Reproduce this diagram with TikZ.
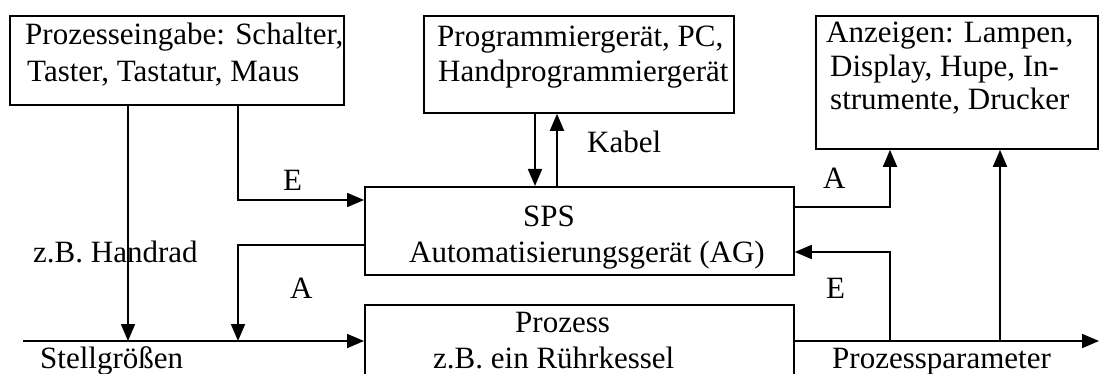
\documentclass[tikz,border=0pt]{standalone}
\usepackage{fontspec}
\setmainfont{Liberation Serif}
\usetikzlibrary{arrows.meta}
\begin{document}
\begin{tikzpicture}[x=1pt,y=-1pt,
 box/.style={draw,line width=1.8pt,inner sep=0pt,anchor=north west},
 arr/.style={line width=1.8pt,-{Triangle[length=17pt,width=14pt]}},
 txt/.style={inner sep=0pt,anchor=base west,font=\fontsize{31}{36}\selectfont}]
\useasboundingbox (0,0) rectangle (1099,374);
\clip (0,0) rectangle (1099,374);
% boxes
\node[box,minimum width=334pt,minimum height=89pt] (b1) at (9,15) {};
\node[box,minimum width=310pt,minimum height=97pt] (b2) at (423,15) {};
\node[box,minimum width=282pt,minimum height=133pt] (b3) at (815,15) {};
\node[box,minimum width=429pt,minimum height=88pt] (sps) at (364,186) {};
\node[box,minimum width=429pt,minimum height=80pt] (proz) at (364,304) {};
% box texts
\node[txt] (t1a) at (25,45) {Prozesseingabe: Schalter,};
\node[txt] (t1b) at (27,82) {Taster, Tastatur, Maus};
\node[txt] (t2a) at (437,47) {Programmiergerät, PC,};
\node[txt] (t2b) at (438,82) {Handprogrammiergerät};
\node[txt] (t3a) at (826,43) {Anzeigen: Lampen,};
\node[txt] (t3b) at (830,77) {Display, Hupe, In-};
\node[txt] (t3c) at (830,110) {strumente, Drucker};
\node[txt] (t4a) at (523,226) {SPS};
\node[txt] (t4b) at (409,262) {Automatisierungsgerät (AG)};
\node[txt] (t5a) at (515,332) {Prozess};
\node[txt] (t5b) at (433,368) {z.B. ein Rührkessel};
% helper coordinates
\coordinate (h1) at (128,341);
\coordinate (h2) at (238,341);
\coordinate (e1) at (0,200);
\coordinate (a1) at (0,245);
\coordinate (busL) at (23,341);
\coordinate (busR) at (1099,341);
\coordinate (k1) at (535,0);
\coordinate (k2) at (557,0);
\coordinate (v1) at (890,341);
\coordinate (v2) at (1000,341);
\coordinate (a2) at (0,207);
\coordinate (e2) at (0,252);
% connectors
\draw[arr] (b1.south -| h1) -- (h1);
\draw[arr] (b1.south -| h2) |- (sps.west |- e1);
\draw[arr] (sps.west |- a1) -| (h2);
\draw[arr] (busL) -- (proz.west |- busL);
\draw[arr] (b2.south -| k1) -- (sps.north -| k1);
\draw[arr] (sps.north -| k2) -- (b2.south -| k2);
\draw[arr] (sps.east |- a2) -| (b3.south -| v1);
\draw[arr] (proz.east |- busR) -- (busR);
\draw[arr] (v1) |- (sps.east |- e2);
\draw[arr] (v2) -- (b3.south -| v2);
% labels
\node[txt] (lE1) at (283,190) {E};
\node[txt] (lK) at (587,153) {Kabel};
\node[txt] (lA1) at (823,189) {A};
\node[txt] (lA2) at (290,298) {A};
\node[txt] (lE2) at (826,298) {E};
\node[txt] (lH) at (33,262) {z.B. Handrad};
\node[txt] (lS) at (40,368) {Stellgrößen};
\node[txt] (lP) at (832,368) {Prozessparameter};
\end{tikzpicture}
\end{document}
